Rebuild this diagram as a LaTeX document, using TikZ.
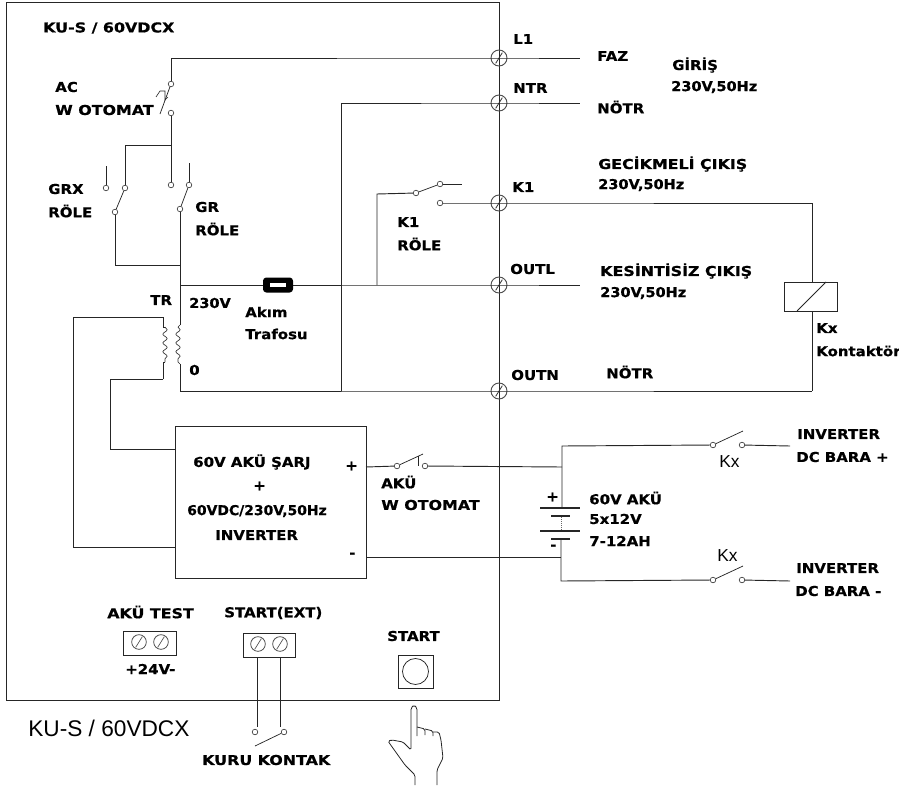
\documentclass[tikz,border=0pt]{standalone}
\usepackage{fontspec}
\usepackage{graphicx}
\setmainfont{DejaVu Sans}[BoldFeatures={FakeStretch=1.1,FakeBold=0.6}]
\newfontfamily\plainfont{Liberation Sans}
\newcommand{\widr}[1]{\scalebox{1.06}[1]{#1}}
\newcommand{\narr}[1]{\scalebox{0.97}[1]{#1}}
\usetikzlibrary{decorations.pathmorphing}
\tikzset{
  wire/.style={draw=black!85,line width=0.7pt},
  lab/.style={anchor=west,inner sep=0pt,font=\bfseries\fontsize{10.2}{12}\selectfont,text=black},
  plainlab/.style={anchor=west,inner sep=0pt,font=\plainfont\fontsize{13}{15}\selectfont,text=black},
  biglab/.style={anchor=west,inner sep=0pt,font=\plainfont\fontsize{17}{19}\selectfont,text=black},
  contact/.style={circle,draw=black!75,fill=white,line width=0.5pt,inner sep=0pt,minimum size=4.2pt},
  term/.style={circle,draw=black!70,line width=0.7pt,inner sep=0pt,minimum size=12pt,
     path picture={\draw[black!80,line width=0.6pt] (-2.5pt,-4pt)--(2.5pt,4pt);}},
  smallterm/.style={circle,draw=black!70,line width=0.6pt,inner sep=0pt,minimum size=11pt,
     path picture={\draw[black!70,line width=0.5pt] (-2.5pt,-4pt)--(2.5pt,4pt);}},
  boxn/.style={draw=black!85,line width=0.7pt,inner sep=0pt,anchor=north west},
  coilw/.style={draw=black!80,line width=0.5pt,decorate,decoration={snake,segment length=6.6pt,amplitude=1.6pt}},
}
\begin{document}
\begin{tikzpicture}[x=0.75pt,y=-0.75pt]
\useasboundingbox (0,0) rectangle (899,785);
% enclosure
\node[boxn,minimum width=369.75pt,minimum height=523.5pt] (enc) at (6,2) {};
% terminals
\node[term] (tL) at (499,58) {};
\node[term] (tN) at (499,103) {};
\node[term] (tK) at (499,203) {};
\node[term] (tO) at (499,285) {};
\node[term] (tM) at (499,391) {};
% free wire ends and junctions
\coordinate (lEnd) at (580,58);
\coordinate (nEnd) at (580,103);
\coordinate (oEnd) at (580,285);
\coordinate (lTop) at (171,58);
\coordinate (acJ) at (171,145);
\coordinate (grxJ) at (125,145);
\coordinate (grxOut) at (115,265);
\coordinate (grOut) at (180,265);
\coordinate (priTop) at (180,285);
\coordinate (priA) at (180,325);
\coordinate (priB) at (180,364);
\coordinate (priBot) at (180,391);
\coordinate (nJ) at (341,103);
\coordinate (nB) at (341,391);
\coordinate (k1J) at (377,285);
\coordinate (k1C) at (377,194);
\coordinate (kxR) at (812,203);
\coordinate (kxB) at (812,391);
\coordinate (secTL) at (73,317);
\coordinate (secA) at (163,317);
\coordinate (secB) at (163,379);
\coordinate (secL) at (110,379);
\coordinate (batTop) at (562,446);
\coordinate (batPos) at (562,467);
\coordinate (batP1) at (562,508);
\coordinate (batN1) at (561,539);
\coordinate (batNeg) at (561,557);
\coordinate (batBot) at (561,581);
% contacts
\node[contact] (ac1) at (171,84) {};
\node[contact] (ac2) at (171,113) {};
\node[contact] (grx1) at (125,188) {};
\node[contact] (grx0) at (106,188) {};
\node[contact] (grx2) at (115,212) {};
\node[contact] (gr0) at (171,185) {};
\node[contact] (gr1) at (189,185) {};
\node[contact] (gr2) at (180,209) {};
\node[contact] (k1a) at (416,193) {};
\node[contact] (k1b) at (440,184) {};
\node[contact] (k1c) at (440,203) {};
\node[contact] (ak1) at (397,466) {};
\node[contact] (ak2) at (425,466) {};
\node[contact] (kp1) at (713,445) {};
\node[contact] (kp2) at (742,445) {};
\node[contact] (kn1) at (713,580) {};
\node[contact] (kn2) at (742,580) {};
\node[contact] (ku1) at (255,732) {};
\node[contact] (ku2) at (284,732) {};
% main wiring
\draw[wire] (ac1) -- (lTop) -- (tL.center) -- (lEnd);
\draw[wire] (ac2) -- (acJ) -- (grxJ) -- (grx1);
\draw[wire] (acJ) -- (gr0);
\draw[wire] (grx0) -- (106,166);
\draw[wire] (gr1) -- (189,163);
\draw[wire] (grx2) -- (grxOut) -- (grOut);
\draw[wire] (gr2) -- (priTop) -- (tO.center) -- (oEnd);
\draw[wire] (priTop) -- (priA);
\draw[wire] (priB) -- (priBot) -- (tM.center) -- (kxB);
\draw[wire] (nB) -- (nJ) -- (tN.center) -- (nEnd);
\draw[wire] (k1J) -- (k1C) -- (k1a);
\draw[wire] (k1b) -- (462,184);
\draw[wire] (k1c) -- (tK.center) -- (kxR);
% switch blades
\draw[wire,line width=0.55pt] (grx1) -- (grx2);
\draw[wire,line width=0.55pt] (gr1) -- (gr2);
\draw[wire,line width=0.55pt] (k1a) -- (k1b);
\draw[wire,line width=0.55pt] (ac1) -- (160,114);
\draw[wire,line width=0.5pt] (156,97) -- (160,91) -- (165,91) -- (165,100) -- (168,97);
\draw[wire,line width=0.55pt] (ak1) -- (423,454);
\draw[wire,line width=0.55pt] (418,456) -- (418,466);
\draw[wire,line width=0.55pt] (kp1) -- (743,431);
\draw[wire,line width=0.55pt] (kn1) -- (743,566);
\draw[wire,line width=0.55pt] (ku2) -- (255,746);
% transformer
\draw[coilw] (178,327) -- (178,362);
\draw[wire,line width=0.5pt] (priA) -- (178,327);
\draw[wire,line width=0.5pt] (178,362) -- (priB);
\draw[coilw] (165,327) -- (165,362);
\draw[wire,line width=0.5pt] (secTL) -- (secA) -- (163,327) -- (165,327);
\draw[wire,line width=0.5pt] (165,362) -- (163,362) -- (secB);
\draw[wire] (secB) -- (secL);
% fuse
\node[fill=black,rounded corners=2.5pt,minimum width=22.5pt,minimum height=11.25pt,inner sep=0pt] (fuse) at (278,285) {};
\node[fill=white,minimum width=11.5pt,minimum height=2.6pt,inner sep=0pt] (fuseS) at (fuse.center) {};
% K coil
\node[boxn,fill=white,minimum width=39.75pt,minimum height=21.75pt] (kx) at (784,282) {};
\draw[wire] (kxR) -- (kx.north -| kxR);
\draw[wire] (kx.south -| kxB) -- (kxB);
\draw[wire,line width=0.55pt] (797,311) -- (826,282);
% inverter
\node[boxn,minimum width=143.25pt,minimum height=114pt] (inv) at (175,426) {};
\draw[wire] (secL) -- (110,449) -- (175,449);
\draw[wire] (secTL) -- (73,547) -- (175,547);
\draw[wire] (366,467) -- (ak1);
\draw[wire] (ak2) -- (batPos);
\draw[wire] (366,557) -- (batNeg);
% battery
\draw[wire] (batP1) -- (batTop) -- (kp1);
\draw[wire] (kp2) -- (790,446);
\draw[wire] (batN1) -- (batBot) -- (kn1);
\draw[wire] (kn2) -- (790,581);
\draw[line width=1.2pt,black!85] (540,508) -- (580,508);
\draw[line width=1.2pt,black!85] (551,516) -- (570,516);
\draw[line width=1.2pt,black!85] (540,531) -- (580,531);
\draw[line width=1.2pt,black!85] (551,539) -- (570,539);
\draw[line width=0.5pt,black!60,densely dotted] (561,517) -- (561,530);
% terminal blocks
\node[boxn,minimum width=39.75pt,minimum height=18pt] (bA) at (123,631) {};
\node[smallterm] (a1) at (139,642) {};
\node[smallterm] (a2) at (161,642) {};
\node[boxn,minimum width=39pt,minimum height=18pt] (bS) at (243,633) {};
\node[smallterm] (s1) at (258,644) {};
\node[smallterm] (s2) at (280,644) {};
\draw[wire] (bS.south -| 257,0) -- (257,727);
\draw[wire] (bS.south -| 280,0) -- (280,727);
% start button
\node[boxn,minimum width=26.25pt,minimum height=24.75pt] (btn) at (398,655) {};
\node[circle,draw=black!85,line width=0.55pt,inner sep=0pt,minimum size=19.5pt] (btnC) at (415.5,671.5) {};
% hand
\draw[wire,line width=0.6pt,rounded corners=1.2pt]
  (415,785) -- (415,775) -- (405,765) -- (390,744) -- (388,741) -- (392,740) -- (403,742) -- (411,750)
  -- (411,708) -- (414,705) -- (417,708) -- (417,736);
\draw[wire,line width=0.6pt,rounded corners=1.2pt]
  (417,727) -- (425,729) -- (425,735);
\draw[wire,line width=0.6pt,rounded corners=1.2pt]
  (425,729) -- (433,731) -- (433,736);
\draw[wire,line width=0.6pt,rounded corners=1.2pt]
  (433,732) -- (439,732) -- (441,740) -- (443,758) -- (437,770) -- (437,785);
% labels
\node[lab] (t1) at (43,28) {\widr{KU-S / 60VDCX}};
\node[lab] (t2) at (55,87) {AC};
\node[lab] (t3) at (55,110) {\widr{W OTOMAT}};
\node[lab] (t4) at (48,189) {GRX};
\node[lab] (t5) at (48,211) {RÖLE};
\node[lab] (t6) at (195,207) {GR};
\node[lab] (t7) at (195,229) {RÖLE};
\node[lab] (t8) at (150,300) {TR};
\node[lab] (t9) at (189,303) {\narr{230V}};
\node[lab] (t10) at (189,370) {0};
\node[lab] (t11) at (245,312) {Akım};
\node[lab] (t12) at (245,334) {Trafosu};
\node[lab] (t13) at (397,222) {K1};
\node[lab] (t14) at (397,244) {RÖLE};
\node[lab] (t15) at (513,39) {L1};
\node[lab] (t16) at (513,88) {NTR};
\node[lab] (t17) at (512,187) {K1};
\node[lab] (t18) at (510,269) {OUTL};
\node[lab] (t19) at (511,375) {OUTN};
\node[lab] (t20) at (597,56) {FAZ};
\node[lab] (t21) at (597,107) {NÖTR};
\node[lab] (t22) at (672,65) {GİRİŞ};
\node[lab] (t23) at (671,87) {\narr{230V,50Hz}};
\node[lab] (t24) at (598,164) {\widr{GECİKMELİ ÇIKIŞ}};
\node[lab] (t25) at (598,185) {\narr{230V,50Hz}};
\node[lab] (t26) at (600,271) {\widr{KESİNTİSİZ ÇIKIŞ}};
\node[lab] (t27) at (600,293) {\narr{230V,50Hz}};
\node[lab] (t28) at (606,372) {NÖTR};
\node[lab] (t29) at (816,328) {Kx};
\node[lab] (t30) at (816,351) {Kontaktör};
\node[lab] (t31) at (193,462) {60V AKÜ ŞARJ};
\node[lab] (t32) at (253,486) {+};
\node[lab] (t33) at (187,511) {\scalebox{0.93}[1]{60VDC/230V,50Hz}};
\node[lab] (t34) at (215,535) {INVERTER};
\node[lab] (t35) at (345,466) {+};
\node[lab] (t36) at (349,555) {-};
\node[lab] (t37) at (381,482) {AKÜ};
\node[lab] (t38) at (381,505) {\widr{W OTOMAT}};
\node[lab] (t39) at (589,498) {60V AKÜ};
\node[lab] (t40) at (589,519) {5x12V};
\node[lab] (t41) at (589,541) {7-12AH};
\node[lab] (t42) at (546,497) {+};
\node[lab] (t43) at (550,547) {-};
\node[plainlab] (t44) at (719,462) {Kx};
\node[plainlab] (t45) at (717,556) {Kx};
\node[lab] (t46) at (797,434) {INVERTER};
\node[lab] (t47) at (796,457) {DC BARA +};
\node[lab] (t48) at (796,568) {INVERTER};
\node[lab] (t49) at (795,591) {DC BARA -};
\node[lab] (t50) at (107,612) {\widr{AKÜ TEST}};
\node[lab] (t51) at (125,669) {+24V-};
\node[lab] (t52) at (224,613) {START(EXT)};
\node[lab] (t53) at (387,636) {START};
\node[biglab] (t54) at (28,728) {KU-S / 60VDCX};
\node[lab] (t55) at (202,760) {\widr{KURU KONTAK}};
\end{tikzpicture}
\end{document}
